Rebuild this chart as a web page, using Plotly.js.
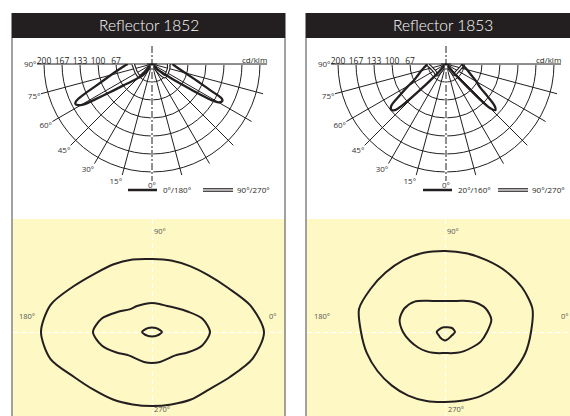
<!DOCTYPE html>
<html><head><meta charset="utf-8">
<script src="https://cdn.plot.ly/plotly-3.0.1.min.js"></script>
<style>html,body{margin:0;padding:0;background:#fff}#chart{width:570px;height:416px}</style>
</head><body><div id="chart"></div>
<script>
// ---------- Light distribution curves (cd/klm), angle gamma from nadir ----------
// Reflector 1852 : 0°/180° plane (solid)
const g1852_C180 = [0, 30, 38, 42, 45, 50, 53, 56, 58, 59.5, 61, 62.5, 64, 66, 68.5, 72.5, 79, 85, 90];
const i1852_C180 = [0, 0, 10, 25, 37, 52, 65, 93, 122, 148, 157, 160, 156, 138, 113, 89, 66, 53, 45];
const g1852_C0 = [0, 30, 40, 45, 50, 53, 55, 57, 58.5, 60, 62, 63.5, 65.5, 69, 75, 82, 90];
const i1852_C0 = [0, 0, 8, 15, 25, 40, 60, 90, 125, 142, 147, 145, 122, 92, 64, 47, 38];
// Reflector 1852 : 90°/270° plane (double line)
const g1852_C90 = [0, 30, 38, 41, 45, 55, 65, 75, 85, 90];
const i1852_C270 = [0, 0, 5, 25, 33, 33, 33, 33, 34, 35];
const i1852_C90 = [0, 0, 5, 25, 33, 33, 32, 32, 31, 31];
// Reflector 1853 : 20°/160° plane (solid)
const g1853_C160 = [0, 35, 40, 43, 45, 46.5, 48, 50, 52.5, 56, 59.6, 63, 67.7, 75, 80, 87, 90];
const i1853_C160 = [0, 0, 8, 30, 70, 110, 128, 132, 128, 102, 82, 67, 57, 47, 42, 36, 35];
const g1853_C20 = [0, 35, 40, 42, 43.5, 45, 47, 49, 52, 55.7, 60, 65.8, 75, 86.6, 90];
const i1853_C20 = [0, 0, 10, 40, 80, 115, 125, 120, 98, 76, 65, 52, 40, 31, 30];
// Reflector 1853 : 90°/270° plane (double line)
const g1853_C90 = [0, 33, 36, 40, 45, 55, 65, 75, 85, 90];
const i1853_C270 = [0, 0, 15, 26, 26, 25, 26, 28, 32, 35];
const i1853_C90 = [0, 0, 15, 25, 25, 25, 26, 28, 31, 33];

const ringVals = [100/3, 200/3, 100, 400/3, 500/3, 200];
const ringText = ['', '67', '100', '133', '167', '200'];
const spokeGamma = [90, 75, 60, 45, 30, 15, 0];   // labelled on the left side
const rMax = 213;

// ---------- Isolux diagrams (radius per direction) ----------
const isoDir = [0,15,30,45,60,75,90,105,120,135,150,165,180,195,210,225,240,255,270,285,300,315,330,345];
const iso1852_outer = [112,102,88,80,76,74,73,75,78,82,91,105,111,105,90,82,78,75,74,75,78,81,90,104];
const iso1852_mid   = [58,52,41,34,30,29,29,29,30,32,40,52,59,52,41,33,31,31,31,31,31,33,41,52];
const iso1852_inner = [10,8,6.5,5.5,5,4.5,4.5,4.5,5,5.5,6.5,8,10,8,6.5,5.5,5,4.5,4.5,4.5,5,5.5,6.5,8];
const iso1853_outer = [86,90.5,89,86,83,81.5,81,82,83,84,86,89,84,81,78,75.5,73.5,71.5,70,71,73.5,76,79,83];
const iso1853_mid   = [42,48,47,42,36,32,31,32,36,43,47,47,42,36,31,27,24,22,21,22,24,27,31,37];
const iso1853_inner = [10,9,8,6.5,5.5,5,4.7,5,5,5.5,6,7,8.3,7.5,7,7.2,7.5,8,8.5,8,7.5,7.3,7.5,8.5];
const isoLabels = ['0°', '90°', '180°', '270°'];

// ---------- helpers ----------
const W = 570, H = 416;
const px = x => x / W, py = y => 1 - y / H;
const INK = '#231f20';
const FONT = 'Open Sans, sans-serif';

// left side theta = 90 - gamma, right side theta = 90 + gamma  (polar rotation 180, ccw)
const leftT = g => g.map(v => 90 - v);
const rightT = g => g.map(v => 90 + v);

function ldcTraces(sub, gL, iL, gR, iR, gDL, iDL, gDR, iDR) {
  const t = [];
  [0, 180].forEach(th => t.push({type:'scatterpolar', subplot:sub, mode:'lines', r:[36, rMax], theta:[th, th],
    line:{color:'#8c8c8c', width:2}, hoverinfo:'skip', showlegend:false}));
  [[gDL, iDL, leftT], [gDR, iDR, rightT]].forEach(([g, i, f]) => {
    t.push({type:'scatterpolar', subplot:sub, mode:'lines', r:i, theta:f(g), line:{color:INK, width:3.6, shape:'spline'}, showlegend:false, hoverinfo:'skip'});
    t.push({type:'scatterpolar', subplot:sub, mode:'lines', r:i, theta:f(g), line:{color:'#ffffff', width:1.3, shape:'spline'}, showlegend:false, hoverinfo:'skip'});
  });
  [[gL, iL, leftT], [gR, iR, rightT]].forEach(([g, i, f]) => {
    t.push({type:'scatterpolar', subplot:sub, mode:'lines', r:i, theta:f(g), line:{color:INK, width:2.3, shape:'spline'}, showlegend:false, hoverinfo:'skip'});
  });
  return t;
}

function isoTraces(xa, ya, radii) {
  return radii.map(rr => {
    const a = isoDir.concat([360]);
    const r = rr.concat([rr[0]]);
    return {type:'scatter', xaxis:xa, yaxis:ya, mode:'lines',
      x: a.map((d, k) => r[k] * Math.cos(d * Math.PI / 180)),
      y: a.map((d, k) => r[k] * Math.sin(d * Math.PI / 180)),
      line:{color:INK, width:2, shape:'spline', smoothing:0.8}, showlegend:false, hoverinfo:'skip'};
  });
}

const data = [].concat(
  ldcTraces('polar', g1852_C180, i1852_C180, g1852_C0, i1852_C0, g1852_C90, i1852_C270, g1852_C90, i1852_C90),
  ldcTraces('polar2', g1853_C160, i1853_C160, g1853_C20, i1853_C20, g1853_C90, i1853_C270, g1853_C90, i1853_C90),
  isoTraces('x', 'y', [iso1852_outer, iso1852_mid, iso1852_inner]),
  isoTraces('x2', 'y2', [iso1853_outer, iso1853_mid, iso1853_inner])
);

const P1 = {cx:152, cy:64, R:115};
const P2 = {cx:446, cy:64, R:115};

const spokeVals = [], spokeText = [];
for (let th = 0; th <= 180; th += 15) {
  spokeVals.push(th);
  spokeText.push(th <= 90 ? spokeGamma[th / 15] + '°' : '');
}

function polarLayout(P) {
  return {
    domain:{x:[px(P.cx - P.R), px(P.cx + P.R)], y:[py(P.cy + P.R), py(P.cy)]},
    sector:[180, 360], bgcolor:'rgba(0,0,0,0)',
    radialaxis:{range:[0, rMax], tickmode:'array', tickvals:ringVals, ticktext:ringText, angle:180, side:'clockwise',
      showline:false, ticks:'', gridcolor:INK, gridwidth:1, tickfont:{family:FONT, size:8.5, color:INK}},
    angularaxis:{rotation:180, direction:'counterclockwise', tickmode:'array', tickvals:spokeVals, ticktext:spokeText,
      showline:false, ticks:'', gridcolor:INK, gridwidth:1, tickfont:{family:FONT, size:8, color:'#333'}}
  };
}

function isoAxis(dom, range) {
  return {domain:dom, range:range, tickmode:'array', tickvals:[0], showticklabels:false, ticks:'',
    showgrid:true, gridcolor:'#ffffff', gridwidth:1, griddash:'5px,3px', zeroline:false, showline:false, fixedrange:true};
}

const shapes = [];
const annotations = [];
function panel(x0, x1, title, P, solidLbl, isoLblPos, legX) {
  [x0, x1].forEach(x => shapes.push({type:'line', xref:'paper', yref:'paper', x0:px(x), x1:px(x), y0:py(38), y1:py(416), line:{color:'#707070', width:1.3}}));
  shapes.push({type:'rect', xref:'paper', yref:'paper', x0:px(x0 - 0.5), x1:px(x1 + 0.5), y0:py(38), y1:py(13), fillcolor:INK, line:{width:0}});
  annotations.push({text:title, xref:'paper', yref:'paper', x:px((x0 + x1) / 2), y:py(25.5), xanchor:'center', yanchor:'middle', showarrow:false,
    font:{family:'Lato, Open Sans, sans-serif', size:15.5, weight:300, color:'#ffffff'}});
  shapes.push({type:'line', xref:'paper', yref:'paper', x0:px(P.cx), x1:px(P.cx), y0:py(P.cy + 1), y1:py(P.cy + P.R), line:{color:'#ffffff', width:2.5}});
  shapes.push({type:'line', xref:'paper', yref:'paper', x0:px(P.cx), x1:px(P.cx), y0:py(P.cy - 18), y1:py(P.cy + P.R + 2), line:{color:INK, width:1, dash:'7px,2px,2px,2px'}});
  shapes.push({type:'line', xref:'paper', yref:'paper', x0:px(P.cx - 5), x1:px(P.cx + 5), y0:py(P.cy), y1:py(P.cy), line:{color:INK, width:1}});
  annotations.push({text:'cd/klm', xref:'paper', yref:'paper', x:px(P.cx + 102), y:py(60), xanchor:'center', yanchor:'middle', showarrow:false,
    font:{family:FONT, size:8, color:INK}});
  const ly = 190;
  shapes.push({type:'line', xref:'paper', yref:'paper', x0:px(legX), x1:px(legX + 29), y0:py(ly), y1:py(ly), line:{color:INK, width:2.5}});
  annotations.push({text:solidLbl, xref:'paper', yref:'paper', x:px(legX + 33), y:py(ly), xanchor:'left', yanchor:'middle', showarrow:false, font:{family:FONT, size:8, color:INK}});
  shapes.push({type:'line', xref:'paper', yref:'paper', x0:px(legX + 75), x1:px(legX + 105), y0:py(ly), y1:py(ly), line:{color:INK, width:3.6}});
  shapes.push({type:'line', xref:'paper', yref:'paper', x0:px(legX + 75), x1:px(legX + 105), y0:py(ly), y1:py(ly), line:{color:'#ffffff', width:1.3}});
  annotations.push({text:'90°/270°', xref:'paper', yref:'paper', x:px(legX + 107), y:py(ly), xanchor:'left', yanchor:'middle', showarrow:false, font:{family:FONT, size:8, color:INK}});
  isoLabels.forEach((t, k) => annotations.push({text:t, xref:'paper', yref:'paper', x:px(isoLblPos[k][0]), y:py(isoLblPos[k][1]),
    xanchor:'center', yanchor:'middle', showarrow:false, font:{family:FONT, size:7.5, color:'#555'}}));
}

panel(12, 285, 'Reflector 1852', P1, '0°/180°', [[273,316],[160,231],[27,316],[162,409]], 128);
panel(306, 579, 'Reflector 1853', P2, '20°/160°', [[565,316],[453,231],[322,316],[456,409]], 423);

const layout = {
  width:W, height:H, margin:{l:0, r:0, t:0, b:0}, paper_bgcolor:'#ffffff', plot_bgcolor:'#fef8c4',
  showlegend:false, font:{family:FONT},
  polar:polarLayout(P1), polar2:polarLayout(P2),
  xaxis:isoAxis([px(13), px(285)], [13 - 152, 285 - 152]),
  yaxis:isoAxis([0, py(219)], [332 - 416, 332 - 219]),
  xaxis2:isoAxis([px(306.5), 1], [306.5 - 445, 570 - 445]),
  yaxis2:isoAxis([0, py(219)], [332 - 416, 332 - 219]),
  shapes:shapes, annotations:annotations
};

Plotly.newPlot('chart', data, layout, {displayModeBar:false, staticPlot:true});
</script>
</body></html>
